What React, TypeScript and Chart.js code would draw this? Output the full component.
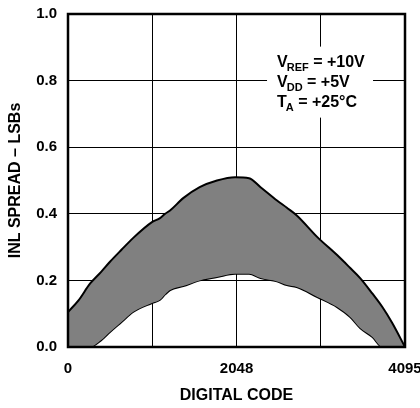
import React, { useEffect, useRef } from "react";
import { Chart, registerables } from "chart.js";

Chart.register(...registerables);

// Digital code positions (shared x values for both boundary curves)
const CODES = [0, 128, 267, 400, 510, 650, 790, 1020, 1118, 1180, 1240, 1400, 1600, 1810, 2030, 2200, 2340, 2540, 2660, 2780, 3030, 3270, 3430, 3550, 3700, 3820, 3940, 4095];
// Upper boundary of INL spread (LSBs)
const UPPER = [0.105, 0.14, 0.19, 0.225, 0.256, 0.292, 0.327, 0.375, 0.387, 0.4, 0.41, 0.447, 0.48, 0.5, 0.51, 0.507, 0.48, 0.44, 0.418, 0.395, 0.33, 0.276, 0.237, 0.207, 0.16, 0.12, 0.072, 0];
// Lower boundary of INL spread (LSBs)
const LOWER = [0, 0, 0, 0.02, 0.045, 0.075, 0.105, 0.132, 0.142, 0.158, 0.171, 0.183, 0.2, 0.21, 0.22, 0.22, 0.207, 0.197, 0.186, 0.18, 0.15, 0.12, 0.09, 0.057, 0.03, 0, 0, 0];

const X_TICKS = [0, 1024, 2048, 3072, 4095];
const X_LABELS = ["0", "", "2048", "", "4095"];

// Annotation lines: [main, subscript, rest]
const NOTE_LINES: [string, string, string][] = [
  ["V", "REF", " = +10V"],
  ["V", "DD", " = +5V"],
  ["T", "A", " = +25°C"],
];
const NOTE_X_CODE = 2540;
const NOTE_Y_VALUE = 0.842;

const FONT = "Arial, 'Liberation Sans', Helvetica, sans-serif";

export default function App() {
  const ref = useRef<HTMLCanvasElement | null>(null);

  useEffect(() => {
    document.body.style.margin = "0";
    const canvas = ref.current;
    if (!canvas) return;

    const framePlugin = {
      id: "frame",
      beforeDatasetsDraw(chart: any) {
        const { ctx, scales } = chart;
        const xs = scales.x;
        const ys = scales.y;
        const x0 = xs.getPixelForValue(NOTE_X_CODE);
        const y0 = ys.getPixelForValue(NOTE_Y_VALUE);
        ctx.save();
        ctx.fillStyle = "#ffffff";
        ctx.fillRect(x0 - 10, y0 - 20, 106, 71);
        ctx.fillStyle = "#000000";
        ctx.textBaseline = "alphabetic";
        ctx.textAlign = "left";
        NOTE_LINES.forEach((ln, i) => {
          const by = y0 + i * 20;
          let x = x0;
          ctx.font = `bold 16px ${FONT}`;
          ctx.fillText(ln[0], x, by);
          x += ctx.measureText(ln[0]).width - 1;
          ctx.font = `bold 11px ${FONT}`;
          ctx.fillText(ln[1], x, by + 4);
          x += ctx.measureText(ln[1]).width;
          ctx.font = `bold 16px ${FONT}`;
          ctx.fillText(ln[2], x, by);
        });
        ctx.restore();
      },
      afterDatasetsDraw(chart: any) {
        const { ctx, chartArea } = chart;
        ctx.save();
        ctx.strokeStyle = "#000";
        ctx.lineWidth = 2.5;
        ctx.strokeRect(chartArea.left, chartArea.top, chartArea.right - chartArea.left, chartArea.bottom - chartArea.top);
        ctx.restore();
      },
    };

    const chart = new Chart(canvas, {
      type: "line",
      data: {
        datasets: [
          {
            label: "Upper",
            data: CODES.map((c, i) => ({ x: c, y: UPPER[i] })),
            borderColor: "#000",
            borderWidth: 2,
            backgroundColor: "#808080",
            fill: "+1",
            pointRadius: 0,
            cubicInterpolationMode: "monotone",
          },
          {
            label: "Lower",
            data: CODES.map((c, i) => ({ x: c, y: LOWER[i] })),
            borderColor: "#000",
            borderWidth: 2,
            fill: false,
            pointRadius: 0,
            cubicInterpolationMode: "monotone",
          },
        ],
      },
      options: {
        responsive: false,
        animation: false,
        devicePixelRatio: 1,
        layout: { padding: { top: 14, right: 15, left: 0, bottom: 0 } },
        plugins: { legend: { display: false }, tooltip: { enabled: false } },
        scales: {
          x: {
            type: "linear",
            min: 0,
            max: 4095,
            afterBuildTicks: (scale: any) => {
              scale.ticks = X_TICKS.map((v) => ({ value: v }));
            },
            afterFit: (scale: any) => {
              scale.height = 61;
              scale.paddingLeft = 0;
              scale.paddingRight = 0;
            },
            ticks: {
              autoSkip: false,
              maxRotation: 0,
              padding: 13,
              color: "#000",
              font: { family: FONT, size: 15, weight: "bold" },
              callback: (_v: any, i: number) => X_LABELS[i],
            },
            grid: { color: "#000", lineWidth: 1, drawTicks: false },
            border: { display: false },
            title: {
              display: true,
              text: "DIGITAL CODE",
              color: "#000",
              font: { family: FONT, size: 16, weight: "bold" },
              padding: { top: 0, bottom: 3 },
            },
          },
          y: {
            min: 0,
            max: 1,
            afterFit: (scale: any) => {
              scale.width = 68;
              scale.paddingTop = 0;
              scale.paddingBottom = 0;
            },
            ticks: {
              stepSize: 0.2,
              padding: 11,
              color: "#000",
              font: { family: FONT, size: 15, weight: "bold" },
              callback: (v: any) => Number(v).toFixed(1),
            },
            grid: { color: "#000", lineWidth: 1, drawTicks: false },
            border: { display: false },
            title: {
              display: true,
              text: "INL SPREAD – LSBs",
              color: "#000",
              font: { family: FONT, size: 16, weight: "bold" },
              padding: { top: 6, bottom: 0 },
            },
          },
        },
      },
      plugins: [framePlugin],
    } as any);

    return () => chart.destroy();
  }, []);

  return (
    <div style={{ width: 420, height: 408 }}>
      <canvas ref={ref} width={420} height={408} />
    </div>
  );
}
